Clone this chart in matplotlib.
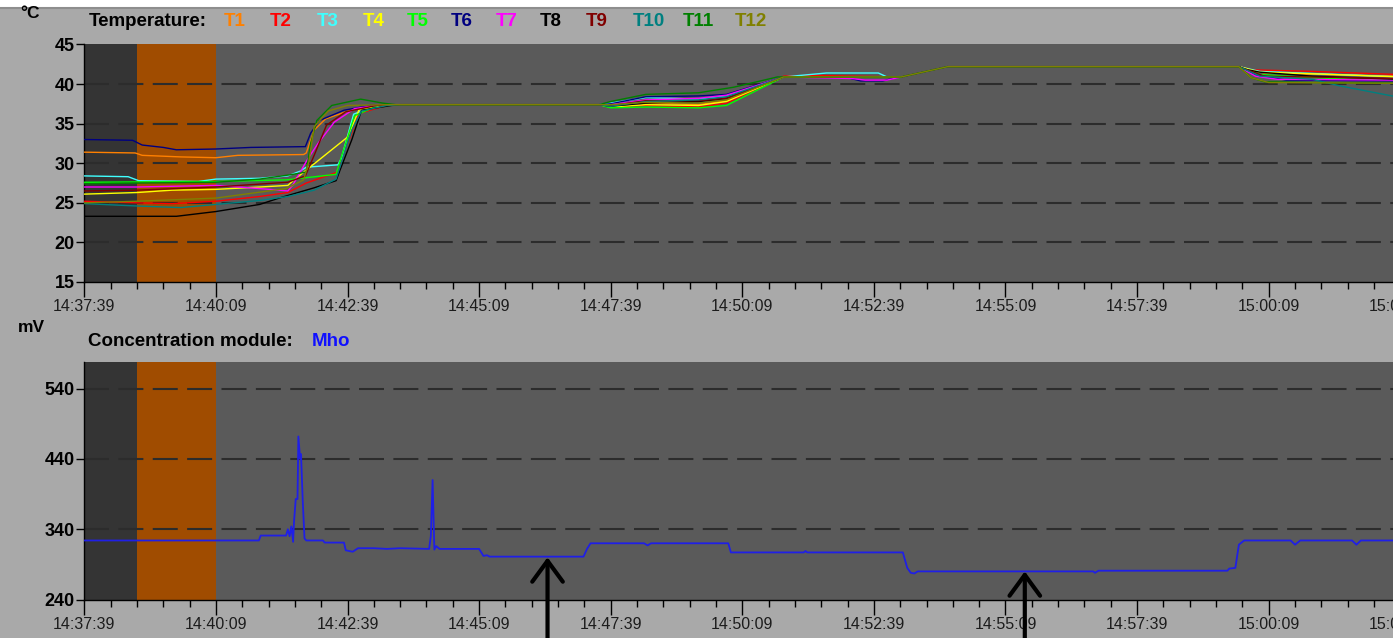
import matplotlib
matplotlib.use("Agg")
import matplotlib.pyplot as plt
from matplotlib.ticker import MultipleLocator, FixedLocator, FuncFormatter
from matplotlib.patches import Rectangle
from matplotlib.lines import Line2D

plt.rcParams['font.family'] = ['Liberation Sans', 'DejaVu Sans']

# Recording start: 14:37:39, all times below are seconds after it
START_CLOCK = 14 * 3600 + 37 * 60 + 39

# Test phases (seconds after start)
IDLE_PHASE = (0, 60)
HEAT_PHASE = (60, 150)

SERIES_NAMES = ["T1", "T2", "T3", "T4", "T5", "T6", "T7", "T8", "T9", "T10", "T11", "T12"]
SERIES_COLORS = ["#ff8000", "#ff0000", "#40ffff", "#ffff00", "#00ff00", "#000080",
                 "#ff00ff", "#000000", "#800000", "#008080", "#008000", "#808000"]

# Temperatures (seconds, degC)
T1 = [(0, 31.4), (58, 31.3), (66, 31.0), (110, 30.8), (150, 30.7), (175, 31.0), (250, 31.1),
      (253, 31.3), (262, 34.2), (275, 35.6), (298, 36.5), (322, 37.2), (350, 37.4), (587, 37.4),
      (600, 37.3), (640, 37.6), (700, 37.4), (732, 37.9), (797, 40.9), (931, 40.9), (984, 42.2),
      (1316, 42.2), (1345, 41.4), (1500, 41.0)]
T2 = [(0, 25.2), (60, 25.0), (100, 24.9), (150, 25.2), (200, 25.8), (232, 26.3), (253, 27.5),
      (289, 28.9), (297, 31.5), (313, 36.3), (345, 37.3), (360, 37.4), (587, 37.4), (600, 37.2),
      (640, 37.3), (700, 37.1), (732, 37.6), (797, 41.0), (828, 41.1), (931, 40.9), (984, 42.2),
      (1316, 42.2), (1330, 41.8), (1400, 41.6), (1500, 41.2)]
T3 = [(0, 28.4), (50, 28.3), (62, 27.8), (130, 27.7), (150, 28.0), (200, 28.1), (232, 28.4),
      (246, 29.0), (253, 29.5), (289, 29.8), (293, 30.6), (307, 36.2), (332, 37.3), (350, 37.4),
      (587, 37.4), (600, 37.6), (640, 38.3), (700, 38.1), (732, 38.5), (797, 40.9), (846, 41.4),
      (905, 41.4), (915, 40.9), (931, 40.9), (984, 42.2), (1316, 42.2), (1340, 41.6), (1500, 40.9)]
T4 = [(0, 26.1), (60, 26.3), (100, 26.6), (150, 26.7), (200, 27.0), (232, 27.2), (238, 27.8),
      (300, 33.3), (313, 36.7), (338, 37.3), (355, 37.4), (587, 37.4), (600, 37.1), (640, 37.4),
      (700, 37.3), (732, 37.8), (797, 40.9), (931, 40.9), (984, 42.2), (1316, 42.2), (1340, 41.5),
      (1400, 41.3), (1500, 40.9)]
T5 = [(0, 27.6), (150, 27.7), (230, 27.9), (255, 28.2), (287, 28.6), (293, 30.8), (308, 36.0),
      (335, 37.3), (350, 37.4), (587, 37.4), (600, 37.0), (640, 37.1), (700, 37.0), (732, 37.3),
      (797, 40.9), (931, 40.9), (984, 42.2), (1316, 42.2), (1340, 41.2), (1440, 40.6), (1500, 40.5)]
T6 = [(0, 33.0), (55, 32.9), (66, 32.3), (90, 32.0), (105, 31.7), (150, 31.8), (190, 32.0),
      (252, 32.1), (258, 33.8), (268, 35.4), (296, 36.7), (326, 37.3), (350, 37.4), (587, 37.4),
      (600, 37.5), (640, 38.4), (700, 38.5), (732, 38.7), (797, 40.9), (870, 40.8), (885, 40.4),
      (910, 40.4), (925, 40.8), (931, 40.9), (984, 42.2), (1316, 42.2), (1335, 41.2), (1370, 40.5),
      (1500, 40.4)]
T7 = [(0, 27.0), (60, 27.0), (150, 27.2), (200, 26.8), (232, 26.5), (238, 27.3), (255, 30.6),
      (267, 32.6), (285, 35.2), (308, 36.9), (333, 37.3), (350, 37.4), (587, 37.4), (600, 37.4),
      (640, 38.0), (700, 38.2), (732, 38.6), (797, 40.9), (875, 40.7), (890, 40.5), (915, 40.5),
      (931, 40.9), (984, 42.2), (1316, 42.2), (1335, 41.0), (1360, 40.6), (1500, 40.5)]
T8 = [(0, 23.3), (105, 23.3), (150, 23.9), (200, 24.8), (222, 25.6), (262, 26.9), (287, 27.8),
      (291, 29.0), (305, 33.0), (316, 36.7), (350, 37.3), (360, 37.4), (587, 37.4), (600, 37.2),
      (640, 37.6), (700, 37.8), (732, 38.2), (797, 40.9), (931, 40.9), (984, 42.2), (1316, 42.2),
      (1322, 41.9), (1340, 41.5), (1400, 41.0), (1500, 40.6)]
T9 = [(0, 26.5), (60, 26.6), (150, 27.0), (232, 27.6), (252, 28.4), (262, 31.0), (276, 34.8),
      (298, 36.5), (333, 37.3), (350, 37.4), (587, 37.4), (600, 37.3), (640, 37.9), (700, 37.9),
      (732, 38.2), (797, 40.9), (931, 40.9), (984, 42.2), (1316, 42.2), (1345, 41.0), (1500, 40.7)]
T10 = [(0, 24.9), (60, 24.6), (110, 24.4), (150, 24.8), (200, 25.3), (232, 25.8), (262, 26.6),
       (287, 28.0), (291, 29.4), (305, 34.2), (316, 36.6), (345, 37.3), (360, 37.4), (587, 37.4),
       (600, 37.2), (640, 37.8), (700, 38.0), (732, 38.4), (797, 40.9), (931, 40.9), (984, 42.2),
       (1316, 42.2), (1340, 41.0), (1400, 40.6), (1430, 39.8), (1500, 38.3)]
T11 = [(0, 27.4), (60, 27.5), (150, 27.6), (200, 28.0), (238, 28.6), (253, 28.9), (258, 32.5),
       (265, 35.4), (282, 37.3), (315, 38.1), (340, 37.6), (355, 37.4), (587, 37.4), (600, 37.8),
       (640, 38.7), (700, 38.9), (740, 39.6), (790, 40.9), (931, 40.9), (984, 42.2), (1316, 42.2),
       (1330, 40.8), (1345, 40.3), (1400, 40.2), (1500, 40.1)]
T12 = [(0, 25.0), (60, 25.2), (150, 25.6), (230, 26.8), (250, 27.9), (256, 30.2), (262, 34.6),
       (278, 36.6), (300, 37.3), (350, 37.4), (587, 37.4), (600, 37.4), (640, 37.7), (700, 37.6),
       (732, 38.0), (797, 40.9), (931, 40.9), (984, 42.2), (1316, 42.2), (1330, 40.8), (1350, 40.2),
       (1500, 40.1)]
TEMPERATURES = [T1, T2, T3, T4, T5, T6, T7, T8, T9, T10, T11, T12]

# Concentration module signal (seconds, mV)
MHO = [(0, 324), (199, 324), (201, 331), (230, 331), (232, 340), (234, 330), (236, 344),
       (238, 322), (239, 350), (241, 383), (243, 383), (244, 472), (246, 440), (247, 447),
       (249, 380), (251, 327), (253, 324), (272, 324), (274, 321), (296, 321), (298, 310),
       (306, 308), (312, 313), (330, 313), (345, 312), (360, 313), (393, 312), (395, 330),
       (397, 410), (398, 360), (399, 311), (401, 316), (405, 312), (450, 312), (455, 302),
       (459, 303), (462, 301), (569, 301), (573, 312), (577, 320), (638, 320), (642, 317),
       (646, 320), (734, 320), (737, 307), (820, 307), (822, 309), (824, 307), (933, 307),
       (938, 285), (942, 278), (946, 277), (950, 280), (1150, 280), (1152, 278), (1156, 281),
       (1303, 281), (1305, 284), (1312, 285), (1316, 318), (1322, 324), (1375, 324),
       (1380, 318), (1386, 324), (1445, 324), (1450, 318), (1455, 324), (1500, 324)]

# Markers on the concentration trace (seconds, mV)
ARROW_TIMES = [528, 1072]
ARROW_MV = [300, 280]

TEMP_TICKS = [15, 20, 25, 30, 35, 40, 45]
MV_TICKS = [240, 340, 440, 540]

W, H = 1393, 638
FIG_BG = "#a9a9a9"
PANEL_BG = "#5a5a5a"
IDLE_COLOR = "#343434"
HEAT_COLOR = "#a04c00"
GRID_COLOR = "#2c2c2c"


def clock(sec, _pos=None):
    s = int(round(START_CLOCK + sec))
    return f"{s // 3600:02d}:{(s % 3600) // 60:02d}:{s % 60:02d}"


def px_box(left, top, right, bottom):
    return [left / W, 1 - bottom / H, (right - left) / W, (bottom - top) / H]


fig = plt.figure(figsize=(W / 100, H / 100), dpi=100, facecolor=FIG_BG)

# window frame at the top
fig.patches.append(Rectangle((0, 1 - 6.5 / H), 1, 6.5 / H, transform=fig.transFigure,
                             facecolor="white", edgecolor="none"))
fig.lines.append(Line2D([0, 1], [1 - 7.5 / H] * 2, transform=fig.transFigure,
                        color="#8e8e8e", lw=1.5))

x_left = 84.3
x_right = x_left + 1500 * 131.6 / 150
ax1 = fig.add_axes(px_box(x_left, 44.5, x_right, 282))
ax2 = fig.add_axes(px_box(x_left, 362, x_right, 599.5))


def style_axis(ax, yticks, ylim):
    ax.set_facecolor(PANEL_BG)
    ax.set_xlim(0, 1500)
    ax.set_ylim(*ylim)
    ax.axvspan(*IDLE_PHASE, color=IDLE_COLOR, zorder=0.5, lw=0)
    ax.axvspan(*HEAT_PHASE, color=HEAT_COLOR, zorder=0.5, lw=0)
    for v in yticks[1:-1] if yticks[-1] >= ylim[1] else yticks[1:]:
        ax.axhline(v, color=GRID_COLOR, lw=1.5, linestyle=(0, (12, 4.5)), zorder=1)
    for side in ("top", "right"):
        ax.spines[side].set_visible(False)
    for side in ("left", "bottom"):
        ax.spines[side].set_color("black")
        ax.spines[side].set_linewidth(1.0)
    ax.yaxis.set_major_locator(FixedLocator(yticks))
    ax.xaxis.set_major_locator(MultipleLocator(150))
    ax.xaxis.set_minor_locator(MultipleLocator(30))
    ax.xaxis.set_major_formatter(FuncFormatter(clock))
    ax.tick_params(axis="y", length=6, width=1, pad=1, labelsize=13, colors="black")
    ax.tick_params(axis="x", which="major", length=11, width=1, pad=1.5,
                   labelsize=11.5, colors="black", labelcolor="#1c1c1c")
    ax.tick_params(axis="x", which="minor", length=5, width=1, colors="black")
    for lab in ax.get_yticklabels():
        lab.set_fontweight("bold")


style_axis(ax1, TEMP_TICKS, (15, 45))
style_axis(ax2, MV_TICKS, (240, 578))

for name, color, series in zip(SERIES_NAMES, SERIES_COLORS, TEMPERATURES):
    ts, vs = zip(*series)
    ax1.plot(ts, vs, color=color, lw=1.0, zorder=3, label=name)

ts, vs = zip(*MHO)
ax2.plot(ts, vs, color="#1f1fe6", lw=1.3, zorder=3)

for t, v in zip(ARROW_TIMES, ARROW_MV):
    ax2.annotate("", xy=(t, v), xycoords="data", xytext=(t, -0.01),
                 textcoords=("data", "figure fraction"), annotation_clip=False,
                 arrowprops=dict(arrowstyle="->,head_length=0.75,head_width=0.55",
                                 lw=3.0, color="black", shrinkA=0, shrinkB=0,
                                 mutation_scale=20), zorder=6)


def ftext(x, y, s, color="black", size=13.5, weight="bold"):
    fig.text(x / W, 1 - y / H, s, color=color, fontsize=size, fontweight=weight,
             ha="left", va="center")


ftext(20, 13, "°C", size=12.5)
ftext(89, 22, "Temperature:")
LABEL_X = [224, 270, 317, 363, 407, 451, 496, 540, 586, 633, 683, 735]
for x, name, color in zip(LABEL_X, SERIES_NAMES, SERIES_COLORS):
    ftext(x, 22, name, color=color)

ftext(18, 328, "mV", size=12.5)
ftext(88, 341, "Concentration module:")
ftext(312, 341, "Mho", color="#1010ff")

fig.savefig("out.png", dpi=100, facecolor=FIG_BG)
